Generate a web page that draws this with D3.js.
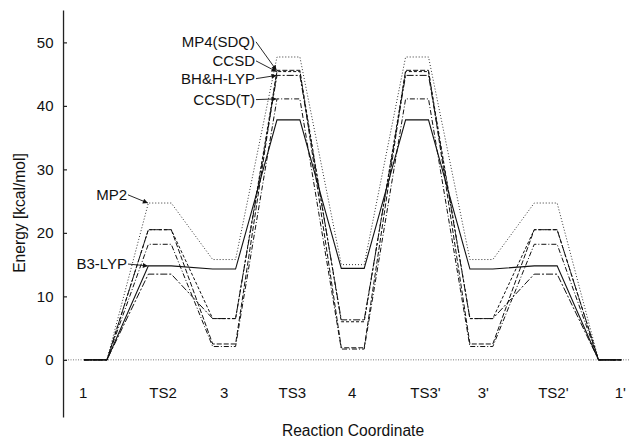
<!DOCTYPE html>
<html><head><meta charset="utf-8">
<script src="https://cdn.jsdelivr.net/npm/d3@7"></script>
<style>
html,body{margin:0;padding:0;background:#fff;}
svg{display:block;font-family:"Liberation Sans",Arial,Helvetica,sans-serif;}
</style></head>
<body>
<svg id="chart" width="639" height="439"></svg>
<script>
// ---- data ----
const states = ["1", "TS2", "3", "TS3", "4", "TS3'", "3'", "TS2'", "1'"];
const stateLabelPos = [-0.19, 1.05, 2.0, 3.06, 3.99, 5.13, 6.03, 7.12, 8.16];
const yTicks = [0, 10, 20, 30, 40, 50];
const methods = ["MP2", "MP4(SDQ)", "CCSD", "BH&H-LYP", "CCSD(T)", "B3-LYP"];
const mp2    = [0, 24.7, 15.8, 47.7, 15.0, 47.7, 15.8, 24.7, 0];
const mp4sdq = [0, 20.5,  2.5, 45.6,  1.9, 45.6,  2.5, 20.5, 0];
const ccsd   = [0, 20.5,  6.5, 45.4,  6.0, 45.4,  6.5, 20.5, 0];
const bhhlyp = [0, 13.5,  6.5, 44.8,  6.3, 44.8,  6.5, 13.5, 0];
const ccsdt  = [0, 18.2,  2.1, 41.1,  1.7, 41.1,  2.1, 18.2, 0];
const b3lyp  = [0, 14.8, 14.3, 37.8, 14.4, 37.8, 14.3, 14.8, 0];

// ---- layout / styles ----
const seriesValues = [mp2, mp4sdq, ccsd, bhhlyp, ccsdt, b3lyp];
const dashes = ["1,2", "5,2", "3,2", "7,2,2,2", "5,2,1,2", null];
const halfW = 0.178;          // half plateau width (state units)
// label anchors in data units: text end x, baseline value, target state
const annot = [
  {m: 0, tx: 0.49, ty: 25.2, s: 1},
  {m: 5, tx: 0.49, ty: 14.3, s: 1},
  {m: 1, tx: 2.48, ty: 49.3, s: 3},
  {m: 2, tx: 2.48, ty: 46.3, s: 3},
  {m: 3, tx: 2.48, ty: 43.5, s: 3},
  {m: 4, tx: 2.48, ty: 40.2, s: 3}
];

const svg = d3.select("#chart");
const x = d3.scaleLinear().domain([0, 8]).range([95.5, 610]);
const y = d3.scaleLinear().domain([-9, 55.1]).range([417, 10]);

// arrow marker
svg.append("defs").append("marker")
  .attr("id", "ah").attr("viewBox", "0 0 10 10").attr("refX", 10).attr("refY", 5)
  .attr("markerWidth", 7).attr("markerHeight", 5).attr("markerUnits", "userSpaceOnUse")
  .attr("orient", "auto")
  .append("path").attr("d", "M0,0L10,5L0,10z").attr("fill", "#111");

// zero reference line
svg.append("line")
  .attr("x1", x(-0.505)).attr("x2", x(8.31))
  .attr("y1", y(0)).attr("y2", y(0))
  .attr("stroke", "#777").attr("stroke-width", 1).attr("stroke-dasharray", "1,1.5");

// series lines
const line = d3.line().x(d => x(d[0])).y(d => y(d[1]));
seriesValues.forEach((vals, k) => {
  const pts = [];
  vals.forEach((v, i) => { pts.push([i - halfW, v]); pts.push([i + halfW, v]); });
  svg.append("path").datum(pts)
    .attr("d", line).attr("fill", "none")
    .attr("stroke", k === 0 ? "#333" : "#111")
    .attr("stroke-width", k === 5 ? 1.1 : 1)
    .attr("stroke-dasharray", dashes[k]);
});

// y axis
const yAxis = d3.axisLeft(y).tickValues(yTicks).tickSizeInner(-4).tickSizeOuter(0).tickPadding(9.5);
const gy = svg.append("g").attr("transform", `translate(${x(-0.505)},0)`).call(yAxis);
gy.select(".domain").attr("stroke", "#222").attr("stroke-width", 1.3);
gy.selectAll(".tick line").attr("stroke", "#222").attr("stroke-width", 1.2);
gy.selectAll(".tick text").attr("font-size", 15).attr("fill", "#111")
  .attr("font-family", "Liberation Sans, Arial, sans-serif");

// state labels
svg.append("g").selectAll("text").data(states).join("text")
  .attr("x", (d, i) => x(stateLabelPos[i])).attr("y", 398)
  .attr("text-anchor", "middle").attr("font-size", 15).attr("fill", "#111")
  .text(d => d);

// axis titles
svg.append("text").attr("x", 353).attr("y", 436).attr("text-anchor", "middle")
  .attr("font-size", 15.6).attr("fill", "#111").text("Reaction Coordinate");
svg.append("text").attr("transform", "translate(25,213) rotate(-90)")
  .attr("text-anchor", "middle").attr("font-size", 15.6).attr("fill", "#111")
  .text("Energy [kcal/mol]");

// annotations
annot.forEach(a => {
  const tx = x(a.tx), ty = y(a.ty);
  svg.append("text").attr("x", tx).attr("y", ty).attr("text-anchor", "end")
    .attr("font-size", 15).attr("fill", "#111").text(methods[a.m]);
  svg.append("line")
    .attr("x1", tx + 1).attr("y1", ty - 5)
    .attr("x2", x(a.s - halfW) - 0.5).attr("y2", y(seriesValues[a.m][a.s]))
    .attr("stroke", "#111").attr("stroke-width", 0.9)
    .attr("marker-end", "url(#ah)");
});
</script>
</body></html>
